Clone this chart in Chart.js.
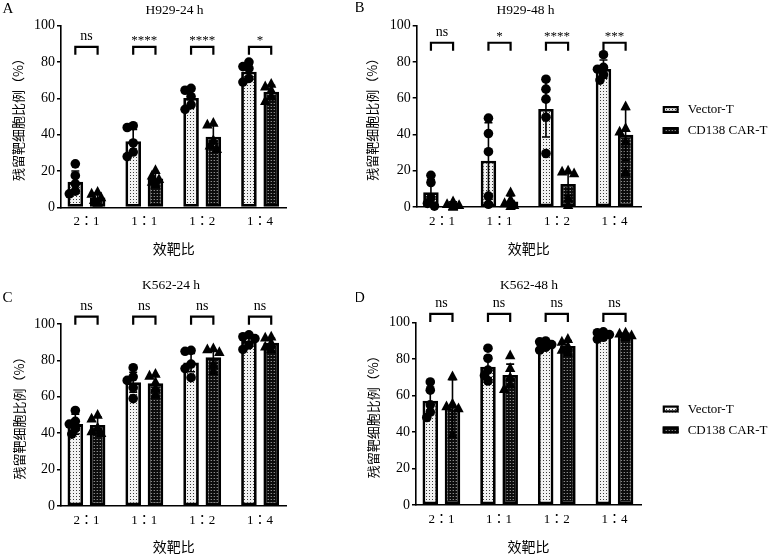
<!DOCTYPE html>
<html><head><meta charset="utf-8">
<script src="https://cdn.jsdelivr.net/npm/chart.js@4.4.1/dist/chart.umd.min.js"></script>
<style>
html,body{margin:0;padding:0;background:#fff;}
#wrap{position:relative;width:771px;height:558px;overflow:hidden;background:#fff;}
canvas{position:absolute;}
</style></head><body>
<div id="wrap">
<canvas id="cA" width="356" height="270" style="left:0;top:0;"></canvas>
<canvas id="cB" width="415" height="270" style="left:356px;top:0;"></canvas>
<canvas id="cC" width="356" height="288" style="left:0;top:270px;"></canvas>
<canvas id="cD" width="415" height="288" style="left:356px;top:270px;"></canvas>
</div>
<script>
// ---------- data ----------
const categories = ['2：1', '1：1', '1：2', '1：4'];
const seriesNames = ['Vector-T', 'CD138 CAR-T'];
const yTickValues = [0, 20, 40, 60, 80, 100];
const panelTitles = ['H929-24 h', 'H929-48 h', 'K562-24 h', 'K562-48 h'];
const panelLetters = ['A', 'B', 'C', 'D'];
const yAxisTitle = '残留靶细胞比例（%）';
const xAxisTitle = '效靶比';

// Panel A: H929-24 h
const aVectorMean = [14.1, 36.5, 60.2, 74.7];
const aVectorSD   = [6.0, 6.5, 4.0, 4.0];
const aCarMean    = [5.5, 16.0, 38.9, 63.7];
const aCarSD      = [2.5, 3.0, 6.5, 3.5];
const aVectorPts  = [[24, 17.5, 13, 9, 7.5], [45, 44, 35.5, 30.5, 28], [65.5, 64.5, 61, 56.5, 54], [80, 77.5, 76.5, 71, 69]];
const aCarPts     = [[8.5, 7.5, 5.5, 4, 2.5], [20.5, 17.5, 15.5, 14, 12.5], [46.5, 45.5, 37, 34, 32], [68, 66.5, 64.5, 61, 58.5]];
const aSig        = ['ns', '****', '****', '*'];

// Panel B: H929-48 h
const bVectorMean = [8.1, 25.5, 54.1, 76.1];
const bVectorSD   = [7.0, 21.0, 15.5, 5.0];
const bCarMean    = [1.3, 3.1, 12.7, 39.8];
const bCarSD      = [1.5, 3.0, 6.5, 14.0];
const bVectorPts  = [[17.5, 13.5, 5, 2, 0.5], [49, 40.5, 30.5, 6, 1.5], [70.5, 65, 59.5, 49.5, 29.5], [84, 77, 76, 73, 70]];
const bCarPts     = [[3, 1.5, 1, 0.5, 0], [8, 4, 2, 1, 0.5], [20, 19.5, 18.5, 4.5, 1], [55.5, 43.5, 41.5, 36, 19]];
const bSig        = ['ns', '*', '****', '***'];

// Panel C: K562-24 h
const cVectorMean = [45.0, 68.0, 78.8, 90.7];
const cVectorSD   = [5.5, 5.5, 5.0, 2.5];
const cCarMean    = [44.5, 67.4, 81.7, 89.7];
const cCarSD      = [4.5, 4.0, 3.5, 2.5];
const cVectorPts  = [[52.5, 46.5, 45, 42.5, 39.5], [76, 71, 69, 65, 59], [85.5, 85, 78, 75.5, 70.5], [94, 93, 92, 88.5, 86]];
const cCarPts     = [[50, 48, 43, 41, 40], [72.5, 71.5, 68, 64.5, 61], [86.5, 86, 84.5, 77.5, 74], [93, 92.5, 89.5, 87.5, 86]];
const cSig        = ['ns', 'ns', 'ns', 'ns'];

// Panel D: K562-48 h
const dVectorMean = [57.2, 75.9, 87.8, 93.2];
const dVectorSD   = [7.5, 6.0, 2.0, 1.0];
const dCarMean    = [54.3, 71.3, 87.2, 93.2];
const dCarSD      = [14.5, 6.0, 3.0, 1.0];
const dVectorPts  = [[67.5, 63, 55, 51, 48], [86, 80.5, 74, 71, 68], [90, 89.5, 88, 86.5, 85], [95, 94.5, 93.5, 92, 91]];
const dCarPts     = [[70.5, 55.5, 54, 53, 38.5], [82, 75, 70, 66, 63.5], [91, 89.5, 87, 85, 83.5], [94.5, 94, 93, 92.5, 92]];
const dSig        = ['ns', 'ns', 'ns', 'ns'];

// ---------- styling / layout ----------
const LATIN = "'Liberation Serif', 'Times New Roman', 'Noto Sans CJK JP', serif";
const TICKX = "'Liberation Serif', 'Noto Sans CJK JP', serif";
const CJK = "'Noto Sans CJK SC', 'Liberation Serif', sans-serif";

function makePattern(kind) {
  const c = document.createElement('canvas');
  c.width = 3; c.height = 3;
  const g = c.getContext('2d');
  if (kind === 'light') {
    g.fillStyle = '#f2f2f2'; g.fillRect(0, 0, 3, 3);
    g.fillStyle = '#3a3a3a'; g.fillRect(1, 1, 1, 1);
  } else {
    g.fillStyle = '#0c0c0c'; g.fillRect(0, 0, 3, 3);
    g.fillStyle = '#8a8a8a'; g.fillRect(1, 1, 1, 1);
    g.fillStyle = '#3a3a3a'; g.fillRect(0, 1, 1, 1);
  }
  return g.createPattern(c, 'repeat');
}
const patVector = makePattern('light');
const patCar = makePattern('dark');

function placePoints(vals, xc, ys) {
  const placed = [];
  const offs = [0, -3.5, 3.5, -6, 6];
  vals.forEach(v => {
    const py = ys.getPixelForValue(v);
    let px = xc;
    for (const o of offs) {
      const cx = xc + o;
      if (placed.every(p => Math.hypot(p.x - cx, p.y - py) >= 6)) { px = cx; break; }
    }
    placed.push({ x: px, y: py });
  });
  return placed;
}

function makeOverlay(P, idx) {
  return {
    id: 'overlay' + idx,
    afterDatasetsDraw(chart) {
      const ctx = chart.ctx, ys = chart.scales.y;
      const m0 = chart.getDatasetMeta(0), m1 = chart.getDatasetMeta(1);
      ctx.save();
      // error bars (mean ± SD)
      [[m0, P.vMean, P.vSD], [m1, P.cMean, P.cSD]].forEach(([m, mean, sd]) => {
        m.data.forEach((bar, i) => {
          const x = bar.x;
          const yt = ys.getPixelForValue(mean[i] + sd[i]);
          const yb = ys.getPixelForValue(Math.max(0, mean[i] - sd[i]));
          ctx.strokeStyle = '#000'; ctx.lineWidth = 1.6;
          ctx.beginPath();
          ctx.moveTo(x, yt); ctx.lineTo(x, yb);
          ctx.moveTo(x - 4, yt); ctx.lineTo(x + 4, yt);
          ctx.moveTo(x - 4, yb); ctx.lineTo(x + 4, yb);
          ctx.stroke();
        });
      });
      // individual points
      ctx.fillStyle = '#000';
      m0.data.forEach((bar, i) => {
        placePoints(P.vPts[i], bar.x, ys).forEach(p => {
          ctx.beginPath(); ctx.arc(p.x, p.y, 4.8, 0, Math.PI * 2); ctx.fill();
        });
      });
      m1.data.forEach((bar, i) => {
        placePoints(P.cPts[i], bar.x, ys).forEach(p => {
          ctx.beginPath();
          ctx.moveTo(p.x, p.y - 6); ctx.lineTo(p.x + 5.2, p.y + 3.8); ctx.lineTo(p.x - 5.2, p.y + 3.8);
          ctx.closePath(); ctx.fill();
        });
      });
      ctx.restore();
    },
    afterDraw(chart) {
      const ctx = chart.ctx, ys = chart.scales.y;
      const m0 = chart.getDatasetMeta(0), m1 = chart.getDatasetMeta(1);
      ctx.save();
      // significance brackets
      ctx.strokeStyle = '#000'; ctx.lineWidth = 2.2; ctx.fillStyle = '#000';
      m0.data.forEach((bar, i) => {
        const x1 = bar.x, x2 = m1.data[i].x;
        const yb = ys.getPixelForValue(P.bracketLevel);
        ctx.beginPath();
        ctx.moveTo(x1, yb + 8); ctx.lineTo(x1, yb); ctx.lineTo(x2, yb); ctx.lineTo(x2, yb + 8);
        ctx.stroke();
        const s = P.sig[i];
        ctx.textAlign = 'center'; ctx.textBaseline = 'alphabetic';
        if (s === 'ns') {
          ctx.font = '14px ' + LATIN;
          ctx.fillText(s, (x1 + x2) / 2, yb - 7);
        } else {
          ctx.font = '13px ' + LATIN;
          ctx.fillText(s, (x1 + x2) / 2, yb - 3);
        }
      });
      // panel title and letter
      ctx.textAlign = 'center'; ctx.textBaseline = 'middle';
      ctx.font = '13.5px ' + LATIN;
      ctx.fillText(P.title, P.titleX, P.titleY);
      ctx.font = '15px ' + LATIN;
      ctx.fillText(P.letter, P.letterX, P.letterY);
      // legend
      if (P.legendY) {
        chart.data.datasets.forEach((ds, k) => {
          const y = P.legendY[k];
          ctx.fillStyle = ds.backgroundColor;
          ctx.fillRect(P.legendX, y - 3.5, 16, 7);
          ctx.strokeStyle = '#000'; ctx.lineWidth = 2.2;
          ctx.strokeRect(P.legendX + 1.1, y - 2.4, 13.8, 4.8);
          ctx.fillStyle = '#000';
          ctx.textAlign = 'left'; ctx.textBaseline = 'middle';
          ctx.font = '13px ' + LATIN;
          ctx.fillText(ds.label, P.legendX + 25, y + 0.5);
        });
      }
      ctx.restore();
    }
  };
}

function makePanel(id, P, idx) {
  const canvas = document.getElementById(id);
  const W = canvas.width, H = canvas.height;
  const datasets = [
    { label: seriesNames[0], data: P.vMean.map((v, i) => ({ x: i, y: v })), backgroundColor: patVector,
      borderColor: '#000', borderWidth: 2.8, borderSkipped: false, categoryPercentage: 0.77, barPercentage: 0.7 },
    { label: seriesNames[1], data: P.cMean.map((v, i) => ({ x: i, y: v })), backgroundColor: patCar,
      borderColor: '#000', borderWidth: 2.8, borderSkipped: false, categoryPercentage: 0.77, barPercentage: 0.7 }
  ];
  const xTitleFont = { family: CJK, size: 14 };
  const yTitleFont = { family: CJK, size: 13 };
  new Chart(canvas, {
    type: 'bar',
    data: { datasets },
    options: {
      responsive: false, animation: false, devicePixelRatio: 1,
      layout: { padding: { left: 0, top: P.top, right: W - P.right, bottom: 0 } },
      plugins: { legend: { display: false }, tooltip: { enabled: false }, title: { display: false } },
      scales: {
        x: {
          type: 'linear', min: -0.44, max: 3.46, offset: false,
          grid: { display: false, drawTicks: false },
          border: { display: true, color: '#000', width: 1.6 },
          afterBuildTicks: (s) => { s.ticks = categories.map((c, i) => ({ value: i })); },
          afterFit: (s) => { s.height = H - P.bottom; },
          ticks: { padding: 6.5, color: '#000', font: { family: TICKX, size: 13 },
                   autoSkip: false, maxRotation: 0,
                   callback: (v) => (categories[v] !== undefined ? categories[v] : '') },
          title: { display: true, text: xAxisTitle, color: '#000', font: xTitleFont,
                   padding: { top: 0, bottom: (H - P.xTitleY) - 14 * 1.2 / 2 } }
        },
        y: {
          min: 0, max: 100,
          afterBuildTicks: (s) => { s.ticks = yTickValues.map(v => ({ value: v })); },
          afterFit: (s) => { s.width = P.left; },
          grid: { drawOnChartArea: false, drawTicks: true, tickLength: 4, color: '#000', lineWidth: 1.5 },
          border: { display: true, color: '#000', width: 1.6 },
          ticks: { padding: 2, color: '#000', font: { family: LATIN, size: 14 } },
          title: { display: true, text: yAxisTitle, color: '#000', font: yTitleFont,
                   padding: { top: P.yTitleX - 13 * 1.2 / 2, bottom: 0 } }
        }
      }
    },
    plugins: [makeOverlay(P, idx)]
  });
}

makePanel('cA', {
  vMean: aVectorMean, vSD: aVectorSD, cMean: aCarMean, cSD: aCarSD, vPts: aVectorPts, cPts: aCarPts, sig: aSig,
  title: panelTitles[0], letter: panelLetters[0],
  left: 61, top: 25.7, right: 286.7, bottom: 207.5, xTitleY: 249, yTitleX: 18,
  titleX: 174.5, titleY: 10, letterX: 8, letterY: 9, bracketLevel: 88.4
}, 0);
makePanel('cB', {
  vMean: bVectorMean, vSD: bVectorSD, cMean: bCarMean, cSD: bCarSD, vPts: bVectorPts, cPts: bCarPts, sig: bSig,
  title: panelTitles[1], letter: panelLetters[1],
  left: 60.7, top: 25.7, right: 285, bottom: 207, xTitleY: 249, yTitleX: 16,
  titleX: 169.5, titleY: 10, letterX: 3.5, letterY: 8.5, bracketLevel: 90.6,
  legendX: 306.7, legendY: [109.5, 130.5]
}, 1);
makePanel('cC', {
  vMean: cVectorMean, vSD: cVectorSD, cMean: cCarMean, cSD: cCarSD, vPts: cVectorPts, cPts: cCarPts, sig: cSig,
  title: panelTitles[2], letter: panelLetters[2],
  left: 61, top: 54, right: 286.7, bottom: 236, xTitleY: 276.7, yTitleX: 19,
  titleX: 171, titleY: 15, letterX: 7.5, letterY: 28, bracketLevel: 104
}, 2);
makePanel('cD', {
  vMean: dVectorMean, vSD: dVectorSD, cMean: dCarMean, cSD: dCarSD, vPts: dVectorPts, cPts: dCarPts, sig: dSig,
  title: panelTitles[3], letter: panelLetters[3],
  left: 60, top: 52.7, right: 285, bottom: 235, xTitleY: 276.7, yTitleX: 17,
  titleX: 173, titleY: 15.7, letterX: 3.5, letterY: 28, bracketLevel: 104.8,
  legendX: 306.7, legendY: [139, 160]
}, 3);
</script>
</body></html>
